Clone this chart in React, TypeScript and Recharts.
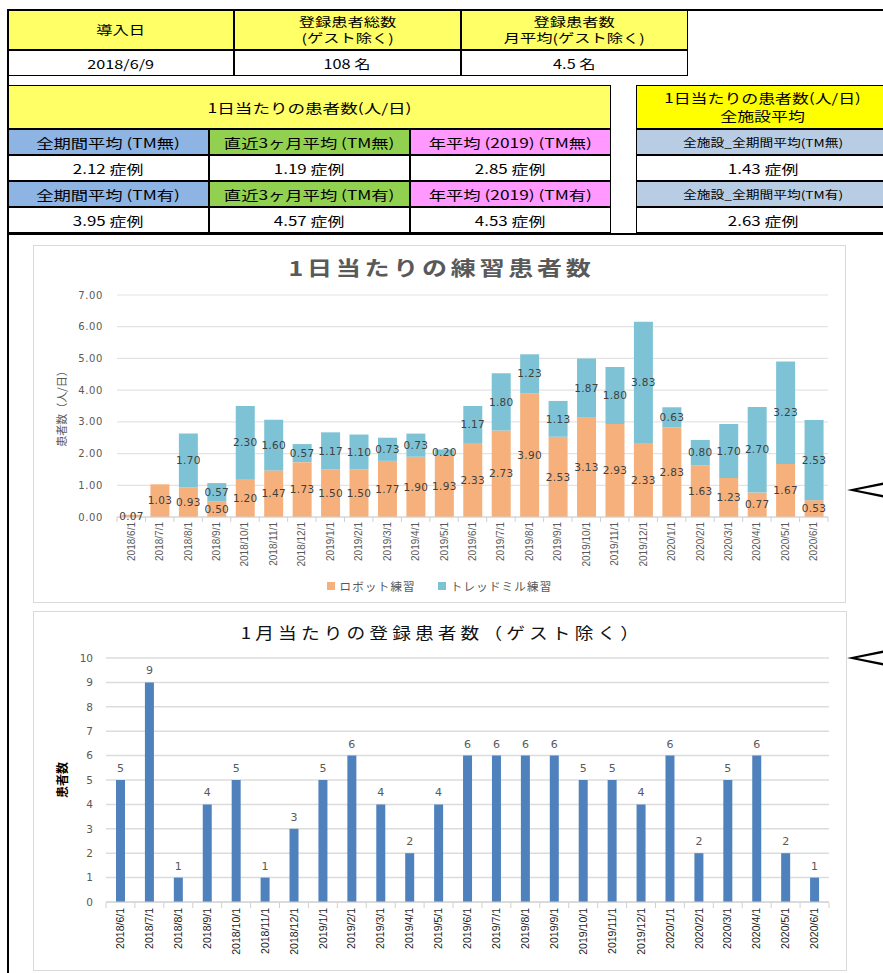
import React from 'react';
import { BarChart, Bar, XAxis, YAxis, CartesianGrid, LabelList, Legend } from 'recharts';

// ---------- data ----------
const months = [
  '2018/6/1', '2018/7/1', '2018/8/1', '2018/9/1', '2018/10/1', '2018/11/1', '2018/12/1',
  '2019/1/1', '2019/2/1', '2019/3/1', '2019/4/1', '2019/5/1', '2019/6/1', '2019/7/1',
  '2019/8/1', '2019/9/1', '2019/10/1', '2019/11/1', '2019/12/1',
  '2020/1/1', '2020/2/1', '2020/3/1', '2020/4/1', '2020/5/1', '2020/6/1',
];
const robotPractice = [0.07, 1.03, 0.93, 0.5, 1.2, 1.47, 1.73, 1.5, 1.5, 1.77, 1.9, 1.93, 2.33, 2.73, 3.9, 2.53, 3.13, 2.93, 2.33, 2.83, 1.63, 1.23, 0.77, 1.67, 0.53];
const treadmillPractice = [null, null, 1.7, 0.57, 2.3, 1.6, 0.57, 1.17, 1.1, 0.73, 0.73, 0.2, 1.17, 1.8, 1.23, 1.13, 1.87, 1.8, 3.83, 0.63, 0.8, 1.7, 2.7, 3.23, 2.53];
const registeredPatients = [5, 9, 1, 4, 5, 1, 3, 5, 6, 4, 2, 4, 6, 6, 6, 6, 5, 5, 4, 6, 2, 5, 6, 2, 1];
const practiceTicks = [0, 1, 2, 3, 4, 5, 6, 7];
const registeredTicks = [0, 1, 2, 3, 4, 5, 6, 7, 8, 9, 10];
const seriesNames = ['ロボット練習', 'トレッドミル練習'];

const summaryHeaders = ['導入日', '登録患者総数\n(ゲスト除く)', '登録患者数\n月平均(ゲスト除く)'];
const summaryValues = ['2018/6/9', '108 名', '4.5 名'];

const dailyTitle = '1日当たりの患者数(人/日)';
const dailyLabelsNo = ['全期間平均 (TM無)', '直近3ヶ月平均 (TM無)', '年平均 (2019) (TM無)'];
const dailyValuesNo = ['2.12 症例', '1.19 症例', '2.85 症例'];
const dailyLabelsYes = ['全期間平均 (TM有)', '直近3ヶ月平均 (TM有)', '年平均 (2019) (TM有)'];
const dailyValuesYes = ['3.95 症例', '4.57 症例', '4.53 症例'];

const allTitle = '1日当たりの患者数(人/日)\n全施設平均';
const allLabels = ['全施設_全期間平均(TM無)', '全施設_全期間平均(TM有)'];
const allValues = ['1.43 症例', '2.63 症例'];

const practiceData = months.map((m, i) => ({ month: m, robot: robotPractice[i], treadmill: treadmillPractice[i] }));
const registeredData = months.map((m, i) => ({ month: m, count: registeredPatients[i] }));

// ---------- styles ----------
const JP = '"Noto Sans CJK JP", "Noto Sans", sans-serif';
const NUM = '"DejaVu Sans", "Liberation Sans", sans-serif';
const NARROW = '"Liberation Sans", Arial, sans-serif';
const ORANGE = '#F6B07C';
const TEAL = '#7EC3D5';
const BLUE = '#4F81BD';
const seriesColors = [ORANGE, TEAL];
const labelColors = ['#8DB4E2', '#92D050', '#FF99FF'];

function TableCell(props: any) {
  const { x, y, w, h, bg = '#fff', text, fs = 13, sx = 1.3, lh = 17 } = props;
  return (
    <div
      style={{
        position: 'absolute', left: x, top: y, width: w, height: h, boxSizing: 'border-box',
        border: '1px solid #000', background: bg, display: 'flex', alignItems: 'center',
        justifyContent: 'center', textAlign: 'center', fontFamily: JP, fontSize: fs,
        lineHeight: lh + 'px', color: '#000', overflow: 'hidden',
      }}
    >
      <span style={{ display: 'inline-block', transform: `scaleX(${sx})`, whiteSpace: 'pre' }}>{text}</span>
    </div>
  );
}

function MonthTick(props: any) {
  const { x, y, payload, index, visibleTicksCount, color, fontSize, half } = props;
  const h = payload && payload.offset ? payload.offset : half;
  const axisY = y - 4;
  return (
    <g>
      <line x1={x - h} x2={x - h} y1={axisY} y2={axisY + 5} stroke="#d0d0d0" />
      {index === visibleTicksCount - 1 && (
        <line x1={x + h} x2={x + h} y1={axisY} y2={axisY + 5} stroke="#d0d0d0" />
      )}
      <text
        x={x}
        y={y + 1}
        transform={`rotate(-90 ${x} ${y + 1})`}
        textAnchor="end"
        dy="0.35em"
        fill={color}
        fontSize={fontSize}
        fontFamily={NARROW}
      >
        {payload.value}
      </text>
    </g>
  );
}

function AxisTitle(props: any) {
  const { viewBox, text, px, color, fontSize, weight } = props;
  const cy = viewBox ? viewBox.y + viewBox.height / 2 : 0;
  return (
    <text
      x={px}
      y={cy}
      transform={`rotate(-90 ${px} ${cy})`}
      textAnchor="middle"
      dy="0.35em"
      fill={color}
      fontSize={fontSize}
      fontWeight={weight}
      fontFamily={JP}
    >
      {text}
    </text>
  );
}

function CenterLabel(props: any) {
  const vb = props.viewBox || props;
  const { value } = props;
  if (value === null || value === undefined || value === 0) return null;
  const cx = vb.x + vb.width / 2;
  const cy = vb.y + vb.height / 2;
  return (
    <text x={cx} y={cy} dy="0.35em" textAnchor="middle" fill="#404040" fontSize={10.5} fontFamily={NUM} letterSpacing={0.3}>
      {Number(value).toFixed(2)}
    </text>
  );
}

function TopLabel(props: any) {
  const vb = props.viewBox || props;
  const { value } = props;
  const cx = vb.x + vb.width / 2;
  return (
    <text x={cx} y={vb.y - 8} textAnchor="middle" fill="#595959" fontSize={11} fontFamily={NUM}>
      {value}
    </text>
  );
}

function PracticeLegend() {
  return (
    <div style={{ display: 'flex', justifyContent: 'center', gap: 22, paddingTop: 1, fontFamily: JP, fontSize: 11.5, color: '#595959', lineHeight: '16px' }}>
      {seriesNames.map((name, i) => (
        <div key={name} style={{ display: 'flex', alignItems: 'center' }}>
          <span style={{ width: 8, height: 8, background: seriesColors[i], display: 'inline-block', marginRight: 5 }} />
          <span style={{ display: 'inline-block', letterSpacing: 1.2 }}>{name}</span>
        </div>
      ))}
    </div>
  );
}

function Arrow(props: any) {
  const { top } = props;
  return (
    <svg style={{ position: 'absolute', left: 845, top: top - 10, overflow: 'visible' }} width={40} height={20}>
      <polygon points="2,10 40,2 40,4.5 12,10 40,15.5 40,18" fill="#000" />
    </svg>
  );
}

export default function App() {
  const colX = [8, 234, 461];
  const colW = [226, 227, 227];
  const col2X = [8, 209, 410];
  const col2W = [201, 201, 201];
  return (
    <div style={{ position: 'absolute', left: 0, top: 0, width: 883, height: 973, overflow: 'hidden', background: '#fff' }}>
      {/* frame lines */}
      <div style={{ position: 'absolute', left: 7, top: 9, width: 876, height: 2, background: '#000' }} />
      <div style={{ position: 'absolute', left: 7, top: 9, width: 2, height: 964, background: '#000' }} />
      <div style={{ position: 'absolute', left: 7, top: 233, width: 876, height: 2, background: '#000' }} />

      {/* summary table */}
      {summaryHeaders.map((t, i) => (
        <TableCell key={'sh' + i} x={colX[i]} y={10} w={colW[i]} h={40} bg="#FFFF66" text={t} fs={12.5} sx={1.3} lh={16} />
      ))}
      {summaryValues.map((t, i) => (
        <TableCell key={'sv' + i} x={colX[i]} y={50} w={colW[i]} h={26} text={t} fs={12.5} sx={1.3} />
      ))}

      {/* daily table */}
      <TableCell x={8} y={85} w={603} h={44} bg="#FFFF66" text={dailyTitle} fs={13} sx={1.35} />
      {dailyLabelsNo.map((t, i) => (
        <TableCell key={'ln' + i} x={col2X[i]} y={129} w={col2W[i]} h={26} bg={labelColors[i]} text={t} fs={13} sx={1.33} />
      ))}
      {dailyValuesNo.map((t, i) => (
        <TableCell key={'vn' + i} x={col2X[i]} y={155} w={col2W[i]} h={26} text={t} fs={13} sx={1.3} />
      ))}
      {dailyLabelsYes.map((t, i) => (
        <TableCell key={'ly' + i} x={col2X[i]} y={181} w={col2W[i]} h={26} bg={labelColors[i]} text={t} fs={13} sx={1.33} />
      ))}
      {dailyValuesYes.map((t, i) => (
        <TableCell key={'vy' + i} x={col2X[i]} y={207} w={col2W[i]} h={26} text={t} fs={13} sx={1.3} />
      ))}

      {/* all-facility table */}
      <TableCell x={636} y={85} w={254} h={44} bg="#FFFF00" text={allTitle} fs={13} sx={1.3} lh={18} />
      <TableCell x={636} y={129} w={254} h={26} bg="#B8CCE4" text={allLabels[0]} fs={11} sx={1.25} />
      <TableCell x={636} y={155} w={254} h={26} text={allValues[0]} fs={13} sx={1.3} />
      <TableCell x={636} y={181} w={254} h={26} bg="#B8CCE4" text={allLabels[1]} fs={11} sx={1.25} />
      <TableCell x={636} y={207} w={254} h={26} text={allValues[1]} fs={13} sx={1.3} />

      {/* chart 1 */}
      <div style={{ position: 'absolute', left: 33, top: 245, width: 813, height: 358 }}>
        <BarChart width={813} height={358} data={practiceData} margin={{ top: 50, right: 18, left: 0, bottom: 0 }}>
          <CartesianGrid vertical={false} stroke="#e3e3e3" strokeWidth={1.2} />
          <XAxis
            dataKey="month"
            interval={0}
            height={60}
            tickSize={0}
            tickMargin={4}
            tickLine={false}
            axisLine={{ stroke: '#d0d0d0' }}
            tick={<MonthTick color="#595959" fontSize={10} half={711 / 25 / 2} />}
          />
          <YAxis
            domain={[0, 7]}
            ticks={practiceTicks}
            width={84}
            axisLine={false}
            tickLine={false}
            tickSize={0}
            tickMargin={14}
            tickFormatter={(v: number) => v.toFixed(2)}
            tick={{ fill: '#595959', fontSize: 10, fontFamily: NUM, letterSpacing: 0.6 }}
            label={<AxisTitle text="患者数（人/日）" px={29} color="#595959" fontSize={11} weight={400} />}
          />
          <Legend verticalAlign="bottom" height={26} content={<PracticeLegend />} wrapperStyle={{ left: 0, width: 813 }} />
          <Bar dataKey="robot" name={seriesNames[0]} stackId="p" fill={ORANGE} barSize={19} isAnimationActive={false}>
            <LabelList dataKey="robot" content={<CenterLabel />} />
          </Bar>
          <Bar dataKey="treadmill" name={seriesNames[1]} stackId="p" fill={TEAL} barSize={19} isAnimationActive={false}>
            <LabelList dataKey="treadmill" content={<CenterLabel />} />
          </Bar>
        </BarChart>
        <div style={{ position: 'absolute', inset: 0, border: '1px solid #d9d9d9', pointerEvents: 'none' }} />
        <div style={{ position: 'absolute', left: 0, width: 813, top: 10, textAlign: 'center', fontFamily: JP, fontSize: 20, fontWeight: 700, color: '#595959', lineHeight: '26px' }}>
          <span style={{ display: 'inline-block', transform: 'scaleX(1.25)', letterSpacing: 3, marginLeft: 3 }}>1日当たりの練習患者数</span>
        </div>
      </div>

      {/* chart 2 */}
      <div style={{ position: 'absolute', left: 33, top: 611, width: 814, height: 360 }}>
        <BarChart width={814} height={360} data={registeredData} margin={{ top: 47, right: 18, left: 0, bottom: 0 }}>
          <CartesianGrid vertical={false} stroke="#dcdcdc" strokeWidth={1.5} />
          <XAxis
            dataKey="month"
            interval={0}
            height={69}
            tickSize={0}
            tickMargin={5}
            tickLine={false}
            axisLine={{ stroke: '#d0d0d0' }}
            tick={<MonthTick color="#1a1a1a" fontSize={10.5} half={723 / 25 / 2} />}
          />
          <YAxis
            domain={[0, 10]}
            ticks={registeredTicks}
            width={73}
            axisLine={false}
            tickLine={false}
            tickSize={0}
            tickMargin={13}
            tick={{ fill: '#595959', fontSize: 10.5, fontFamily: NUM }}
            label={<AxisTitle text="患者数" px={30} color="#000" fontSize={12} weight={700} />}
          />
          <Bar dataKey="count" fill={BLUE} barSize={9} isAnimationActive={false}>
            <LabelList dataKey="count" content={<TopLabel />} />
          </Bar>
        </BarChart>
        <div style={{ position: 'absolute', inset: 0, border: '1px solid #d9d9d9', pointerEvents: 'none' }} />
        <div style={{ position: 'absolute', left: 0, width: 814, top: 9, textAlign: 'center', fontFamily: JP, fontSize: 16, color: '#111', lineHeight: '24px' }}>
          <span style={{ display: 'inline-block', transform: 'scaleX(1.17)', letterSpacing: 3.5, marginLeft: 3 }}>1月当たりの登録患者数（ゲスト除く）</span>
        </div>
      </div>

      <Arrow top={490} />
      <Arrow top={658} />
    </div>
  );
}
